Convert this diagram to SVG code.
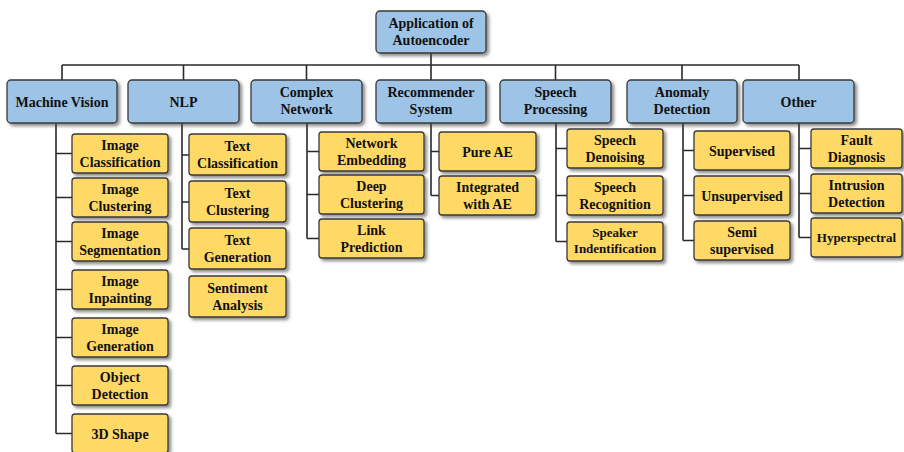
<svg xmlns="http://www.w3.org/2000/svg" width="904" height="452" viewBox="0 0 904 452">
<defs>
<filter id="sh" x="-10%" y="-10%" width="130%" height="140%">
<feDropShadow dx="2.5" dy="2.5" stdDeviation="1.5" flood-color="#444" flood-opacity="0.6"/>
</filter>
<style>
.b{fill:#9DC3E6;stroke:#3a3a3a;stroke-width:1.3;filter:url(#sh)}
.y{fill:#FFD966;stroke:#3a3a3a;stroke-width:1.3;filter:url(#sh)}
text{font-family:"Liberation Serif","Times New Roman",serif;font-weight:bold;font-size:14px;fill:#111;text-anchor:middle}
.s{font-size:13px}
.c{fill:none;stroke:#2a2a2a;stroke-width:1.6}
</style>
</defs>
<rect width="904" height="452" fill="#fff"/>
<g id="connectors" class="c">
<path d="M431 53V65M62 65H799M62 65V80M183.5 65V80M306.5 65V80M431 65V80M555.5 65V80M682 65V80M799 65V80"/>
<path d="M56 123V433.5M56 153.5H72M56 197.5H72M56 241.5H72M56 289.5H72M56 337.5H72M56 385.5H72M56 433.5H72"/>
<path d="M182 123V249M182 155H189M182 202H189M182 249H189"/>
<path d="M307 123V238.5M307 151.5H319M307 194.5H319M307 238.5H319"/>
<path d="M431 123V195.5M431 151.5H439M431 195.5H439"/>
<path d="M556 123V241.5M556 148.5H567M556 195.5H567M556 241.5H567"/>
<path d="M683 123V240.5M683 150.5H694M683 195.5H694M683 240.5H694"/>
<path d="M799 123V237.5M799 148.5H811M799 193.5H811M799 237.5H811"/>
</g>
<g id="root"><rect class="b" x="376" y="11" width="110" height="42" rx="4"/><text x="431" y="28">Application of</text><text x="431" y="45">Autoencoder</text></g>
<g id="mv"><rect class="b" x="7" y="80" width="110" height="43" rx="4"/><text x="62" y="106.5">Machine Vision</text></g>
<g id="nlp"><rect class="b" x="128" y="80" width="111" height="43" rx="4"/><text x="183.5" y="106.5">NLP</text></g>
<g id="cn"><rect class="b" x="251" y="80" width="111" height="43" rx="4"/><text x="306.5" y="97">Complex</text><text x="306.5" y="114">Network</text></g>
<g id="rs"><rect class="b" x="376" y="80" width="110" height="43" rx="4"/><text x="431" y="97">Recommender</text><text x="431" y="114">System</text></g>
<g id="sp"><rect class="b" x="500" y="80" width="111" height="43" rx="4"/><text x="555.5" y="97">Speech</text><text x="555.5" y="114">Processing</text></g>
<g id="ad"><rect class="b" x="627" y="80" width="110" height="43" rx="4"/><text x="682" y="97">Anomaly</text><text x="682" y="114">Detection</text></g>
<g id="ot"><rect class="b" x="743" y="80" width="111" height="43" rx="4"/><text x="798.5" y="106.5">Other</text></g>

<g id="mv1"><rect class="y" x="72" y="134" width="96" height="39" rx="3"/><text x="120" y="149.5">Image</text><text x="120" y="166.5">Classification</text></g>
<g id="mv2"><rect class="y" x="72" y="178" width="96" height="39" rx="3"/><text x="120" y="193.5">Image</text><text x="120" y="210.5">Clustering</text></g>
<g id="mv3"><rect class="y" x="72" y="222" width="96" height="39" rx="3"/><text x="120" y="237.5">Image</text><text x="120" y="254.5">Segmentation</text></g>
<g id="mv4"><rect class="y" x="72" y="270" width="96" height="39" rx="3"/><text x="120" y="285.5">Image</text><text x="120" y="302.5">Inpainting</text></g>
<g id="mv5"><rect class="y" x="72" y="318" width="96" height="39" rx="3"/><text x="120" y="333.5">Image</text><text x="120" y="350.5">Generation</text></g>
<g id="mv6"><rect class="y" x="72" y="366" width="96" height="39" rx="3"/><text x="120" y="381.5">Object</text><text x="120" y="398.5">Detection</text></g>
<g id="mv7"><rect class="y" x="72" y="414" width="96" height="39" rx="3"/><text x="120" y="438.5">3D Shape</text></g>

<g id="n1"><rect class="y" x="189" y="134" width="97" height="41" rx="3"/><text x="237.5" y="151">Text</text><text x="237.5" y="168">Classification</text></g>
<g id="n2"><rect class="y" x="189" y="181" width="97" height="41" rx="3"/><text x="237.5" y="198">Text</text><text x="237.5" y="215">Clustering</text></g>
<g id="n3"><rect class="y" x="189" y="228" width="97" height="41" rx="3"/><text x="237.5" y="245">Text</text><text x="237.5" y="262">Generation</text></g>
<g id="n4"><rect class="y" x="189" y="276" width="97" height="41" rx="3"/><text x="237.5" y="293">Sentiment</text><text x="237.5" y="310">Analysis</text></g>

<g id="c1"><rect class="y" x="319" y="132" width="105" height="39" rx="3"/><text x="371.5" y="147.5">Network</text><text x="371.5" y="164.5">Embedding</text></g>
<g id="c2"><rect class="y" x="319" y="175" width="105" height="39" rx="3"/><text x="371.5" y="190.5">Deep</text><text x="371.5" y="207.5">Clustering</text></g>
<g id="c3"><rect class="y" x="319" y="219" width="105" height="39" rx="3"/><text x="371.5" y="234.5">Link</text><text x="371.5" y="251.5">Prediction</text></g>

<g id="r1"><rect class="y" x="439" y="132" width="97" height="39" rx="3"/><text x="487.5" y="156.5">Pure AE</text></g>
<g id="r2"><rect class="y" x="439" y="176" width="97" height="39" rx="3"/><text x="487.5" y="191.5">Integrated</text><text x="487.5" y="208.5">with AE</text></g>

<g id="s1"><rect class="y" x="567" y="129" width="96" height="39" rx="3"/><text x="615" y="144.5">Speech</text><text x="615" y="161.5">Denoising</text></g>
<g id="s2"><rect class="y" x="567" y="176" width="96" height="39" rx="3"/><text x="615" y="191.5">Speech</text><text x="615" y="208.5">Recognition</text></g>
<g id="s3"><rect class="y" x="567" y="222" width="96" height="39" rx="3"/><text class="s" x="615" y="237">Speaker</text><text class="s" x="615" y="253">Indentification</text></g>

<g id="a1"><rect class="y" x="694" y="131" width="96" height="39" rx="3"/><text x="742" y="155.5">Supervised</text></g>
<g id="a2"><rect class="y" x="694" y="176" width="96" height="39" rx="3"/><text x="742" y="200.5">Unsupervised</text></g>
<g id="a3"><rect class="y" x="694" y="221" width="96" height="39" rx="3"/><text x="742" y="236.5">Semi</text><text x="742" y="253.5">supervised</text></g>

<g id="o1"><rect class="y" x="811" y="129" width="91" height="39" rx="3"/><text x="856.5" y="144.5">Fault</text><text x="856.5" y="161.5">Diagnosis</text></g>
<g id="o2"><rect class="y" x="811" y="174" width="91" height="39" rx="3"/><text x="856.5" y="189.5">Intrusion</text><text x="856.5" y="206.5">Detection</text></g>
<g id="o3"><rect class="y" x="811" y="218" width="91" height="39" rx="3"/><text class="s" x="856.5" y="242">Hyperspectral</text></g>
</svg>
